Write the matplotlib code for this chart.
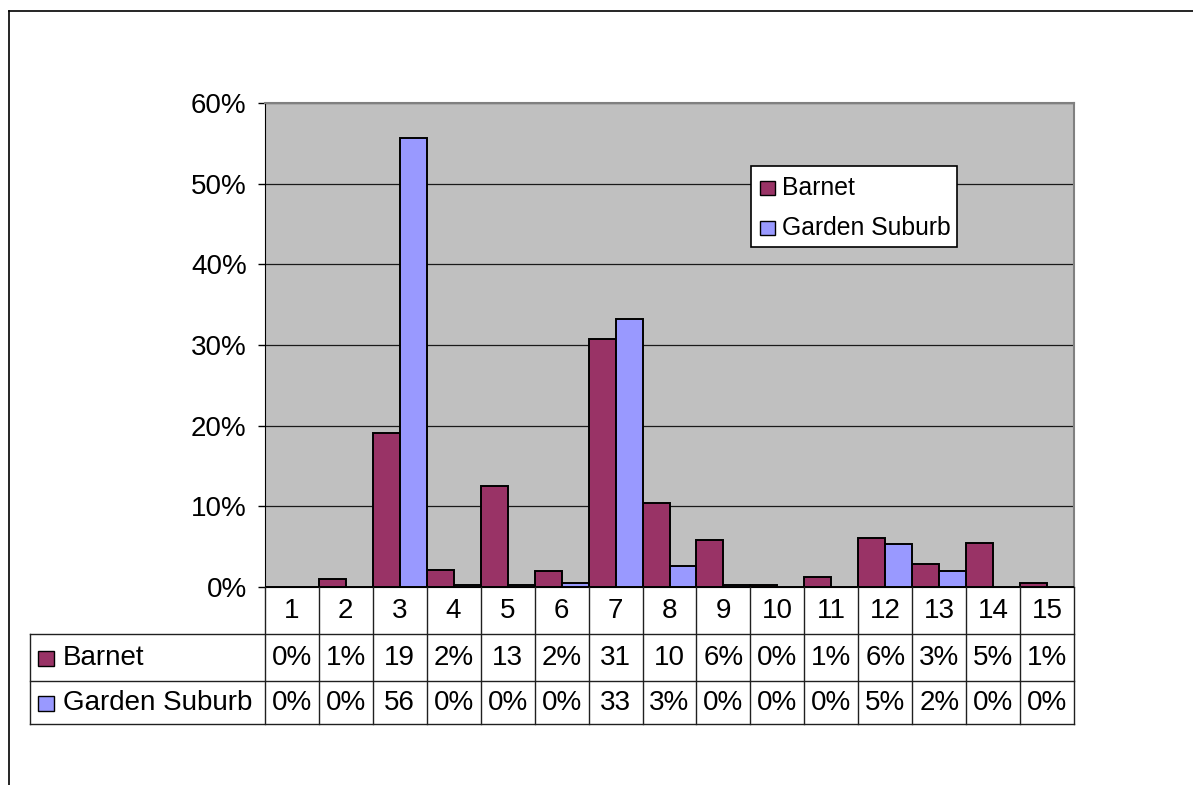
import matplotlib
matplotlib.use("Agg")
import matplotlib.pyplot as plt
from matplotlib.lines import Line2D
from matplotlib.patches import Rectangle
from matplotlib.transforms import blended_transform_factory

plt.rcParams['font.family'] = ['Liberation Sans', 'DejaVu Sans']

categories = [str(i) for i in range(1, 16)]
barnet = [0, 1.0, 19.1, 2.1, 12.5, 1.9, 30.7, 10.4, 5.8, 0.2, 1.2, 6.0, 2.85, 5.4, 0.5]
garden = [0, 0, 55.7, 0.2, 0.2, 0.5, 33.2, 2.6, 0.2, 0, 0, 5.3, 1.9, 0, 0]
barnet_labels = ['0%', '1%', '19', '2%', '13', '2%', '31', '10', '6%', '0%', '1%', '6%', '3%', '5%', '1%']
garden_labels = ['0%', '0%', '56', '0%', '0%', '0%', '33', '3%', '0%', '0%', '0%', '5%', '2%', '0%', '0%']
series_names = ['Barnet', 'Garden Suburb']
colors = ['#993366', '#9999FF']
yticks = [0, 10, 20, 30, 40, 50, 60]

W, H = 1193, 785
fig = plt.figure(figsize=(W / 100, H / 100), dpi=100)

def fx(px):
    return px / W

def fy(py):
    return 1 - py / H

FS = 20
L, R, T, B = 264.7, 1074.3, 103.3, 586.7
ax = fig.add_axes([fx(L), fy(B), fx(R) - fx(L), fy(T) - fy(B)])
ax.set_facecolor('#C0C0C0')

x = list(range(1, 16))
ax.bar([v - 0.25 for v in x], barnet, width=0.5, color=colors[0], edgecolor='black', linewidth=1.4, zorder=3)
ax.bar([v + 0.25 for v in x], garden, width=0.5, color=colors[1], edgecolor='black', linewidth=1.4, zorder=3)

ax.set_xlim(0.5, 15.5)
ax.set_ylim(0, 60)
ax.set_yticks(yticks)
ax.set_yticklabels([f'{t}%' for t in yticks])
ax.tick_params(axis='y', length=5, width=1, pad=8, labelsize=FS, direction='out')
ax.set_xticks([])
ax.yaxis.grid(True, color='#1a1a1a', linewidth=0.9, zorder=1)
ax.set_axisbelow(True)
for s in ['top', 'right']:
    ax.spines[s].set_color('#808080')
    ax.spines[s].set_linewidth(1.5)
ax.spines['left'].set_color('black')
ax.spines['bottom'].set_color('black')

# Legend box inside plot
lx0, ly0, lx1, ly1 = 751, 165.7, 957.3, 247
fig.patches.append(Rectangle((fx(lx0), fy(ly1)), fx(lx1) - fx(lx0), fy(ly0) - fy(ly1),
                             transform=fig.transFigure, facecolor='white', edgecolor='black',
                             linewidth=1.2, zorder=5))
for i, (name, c) in enumerate(zip(series_names, colors)):
    cy = 188 + i * 40
    fig.patches.append(Rectangle((fx(760), fy(cy + 7)), fx(15), 14 / H, transform=fig.transFigure,
                                 facecolor=c, edgecolor='black', linewidth=1.0, zorder=6))
    fig.text(fx(782), fy(cy), name, fontsize=17.8, va='center', ha='left', zorder=7)

# Data table
tb = blended_transform_factory(ax.transData, fig.transFigure)
row_lines = [634, 680.5, 724]
tab_left = 30.3
line_kw = dict(color='#202020', linewidth=1.0)
for yy in row_lines:
    fig.add_artist(Line2D([fx(tab_left), fx(R)], [fy(yy), fy(yy)], transform=fig.transFigure, **line_kw))
fig.add_artist(Line2D([fx(tab_left), fx(tab_left)], [fy(634), fy(724)], transform=fig.transFigure, **line_kw))
for b in [v + 0.5 for v in [0] + x]:
    fig.add_artist(Line2D([b, b], [fy(B), fy(724)], transform=tb, **line_kw))

for xi, cat, bl, gl in zip(x, categories, barnet_labels, garden_labels):
    fig.text(xi, fy(611), cat, transform=tb, fontsize=FS, ha='center', va='center')
    fig.text(xi, fy(658), bl, transform=tb, fontsize=FS, ha='center', va='center')
    fig.text(xi, fy(703), gl, transform=tb, fontsize=FS, ha='center', va='center')

for i, (name, c) in enumerate(zip(series_names, colors)):
    cy = 658 + i * 45
    fig.patches.append(Rectangle((fx(38), fy(cy + 7.5)), fx(16), 15 / H, transform=fig.transFigure,
                                 facecolor=c, edgecolor='black', linewidth=1.0))
    fig.text(fx(63), fy(cy), name, fontsize=FS, ha='left', va='center')

# outer chart border (top and left visible)
fig.add_artist(Line2D([fx(9), fx(W)], [fy(11), fy(11)], transform=fig.transFigure, color='black', linewidth=1.2))
fig.add_artist(Line2D([fx(9), fx(9)], [fy(11), fy(H)], transform=fig.transFigure, color='black', linewidth=1.2))

fig.savefig('out.png', dpi=100, facecolor='white')
